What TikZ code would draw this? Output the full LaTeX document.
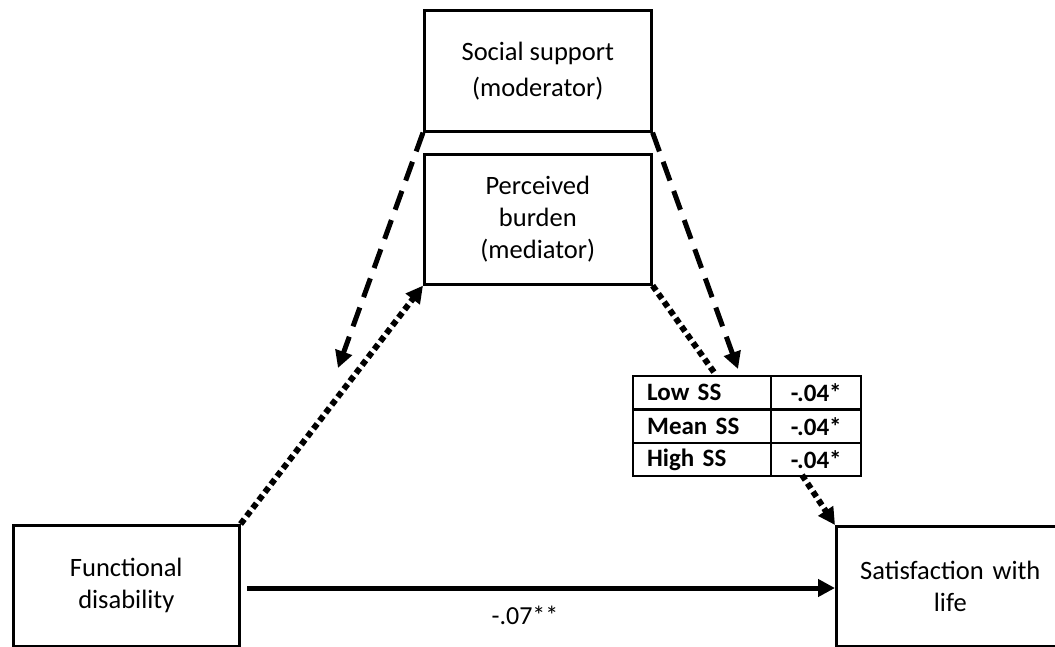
\documentclass[tikz,border=0pt]{standalone}
\usepackage{fontspec}
\setmainfont{Carlito}
\usetikzlibrary{arrows.meta}
\begin{document}
\begin{tikzpicture}[x=1pt,y=-1pt,
  box/.style={draw,line width=2.6pt,rectangle,anchor=north west,align=center,
    inner sep=0pt,font=\fontsize{26.5}{32}\selectfont},
  cell/.style={draw,line width=2.4pt,rectangle,anchor=north west,inner sep=0pt,
    minimum height=33,font=\fontsize{25}{28}\selectfont\bfseries},
  namecell/.style={cell,minimum width=138,text width=110,align=left},
  valcell/.style={cell,minimum width=90,align=center},
  tip/.style={-{Triangle[length=17pt,width=17pt]}},
  dashline/.style={line width=5pt,dash pattern=on 20pt off 11pt},
  dotline/.style={line width=6pt,dash pattern=on 6pt off 4pt},
  pathline/.style={line width=5pt}]
\path[use as bounding box,clip] (0,0) rectangle (1055,646);

% variables
\node[box,minimum width=227,minimum height=121] (ss) at (423,9)
  {Social support\\[4pt](moderator)};
\node[box,minimum width=227,minimum height=130] (pb) at (423,153)
  {Perceived\\burden\\(mediator)};
\node[box,minimum width=226,minimum height=121] (fd) at (12,524)
  {Functional\\disability};
% this box runs past the right edge of the page; its lines are
% centred on the first 228pt of its width
\node[box,minimum width=260,minimum height=120,text width=260,align=left] (swl) at (835,525)
  {\makebox[228pt]{Satisfaction with}\\\makebox[228pt]{life}};

% conditional indirect effects
\node[namecell] (r1a) at (632,375) {Low SS};
\node[valcell]  (r1b) at (770,375) {-.04*};
\node[namecell] (r2a) at (632,409) {Mean SS};
\node[valcell]  (r2b) at (770,409) {-.04*};
\node[namecell] (r3a) at (632,442) {High SS};
\node[valcell]  (r3b) at (770,442) {-.04*};

% connector ends
\coordinate (modL) at (338,368);
\coordinate (modR) at (738,369);
\coordinate (tabIn) at (716,375);
\coordinate (tabOut) at (802,475);
\coordinate (dirA) at (247,588);
\coordinate (dirB) at (835,588);

% moderation paths
\draw[dashline,tip] (ss.south west) -- (modL);
\draw[dashline,tip] (ss.south east) -- (modR);

% indirect path
\draw[dotline,tip] (fd.north east) -- (pb.south west);
\draw[dotline] (pb.south east) -- (tabIn);
\draw[dotline,tip] (tabOut) -- (swl.north west);

% direct path
\draw[pathline,tip] (dirA) -- (dirB);
\node[font=\fontsize{26}{30}\selectfont] (dirlab) at (525,615) {-.07**};
\end{tikzpicture}
\end{document}
